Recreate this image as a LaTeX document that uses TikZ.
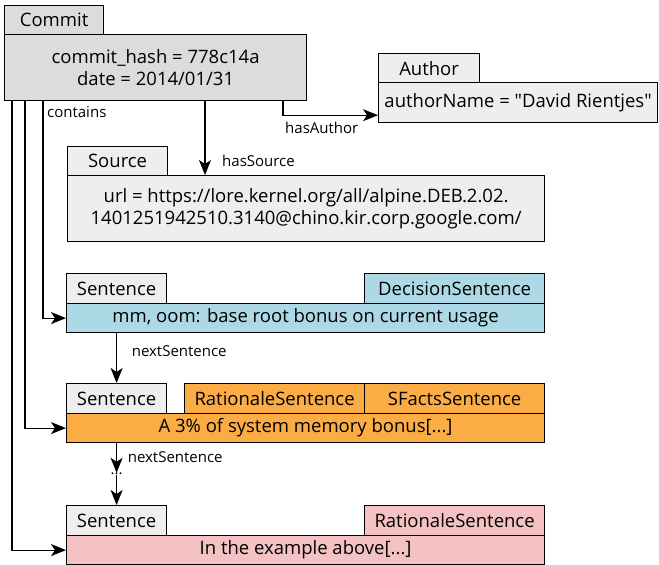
\documentclass[tikz,border=0pt]{standalone}
\usepackage{fontspec}
\setmainfont{Open Sans}
\newfontfamily\qfont{Open Sans}[Ligatures=TeXOff]
\usetikzlibrary{arrows.meta}
\definecolor{commitgray}{HTML}{DCDCDC}
\definecolor{boxgray}{HTML}{EEEEEE}
\definecolor{decblue}{HTML}{ADD8E6}
\definecolor{ratorange}{HTML}{FCAC44}
\definecolor{ratpink}{HTML}{F4C2C2}
\newcommand{\mainf}{\fontsize{18.5}{22}\selectfont}
\newcommand{\smallf}{\fontsize{15}{17}\selectfont}
\tikzset{
  box/.style={draw, line width=1.2pt, inner sep=0pt, anchor=north west, font=\mainf, align=center},
  arr/.style={line width=1.2pt, -{Stealth[length=15pt,width=12pt,inset=4pt]}},
  lbl/.style={font=\smallf, inner sep=0pt, anchor=west},
}
\begin{document}
\begin{tikzpicture}[x=1pt,y=-1pt]
\useasboundingbox (0,0) rectangle (659,565);
% Commit
\node[box, fill=commitgray, minimum width=99pt, minimum height=29pt] (committab) at (4,5) {Commit};
\node[box, fill=commitgray, minimum width=302pt, minimum height=66pt] (commit) at (4,34) {commit\_hash = 778c14a\\date = 2014/01/31};
% Author
\node[box, fill=boxgray, minimum width=101pt, minimum height=29pt] (authtab) at (378,53) {Author};
\node[box, fill=boxgray, minimum width=279pt, minimum height=40pt] (auth) at (378,82) {\qfont authorName = "David Rientjes"};
% Source
\node[box, fill=boxgray, minimum width=100pt, minimum height=29pt] (srctab) at (67,146) {Source};
\node[box, fill=boxgray, minimum width=477pt, minimum height=66pt] (src) at (67,175) {url = https://lore.kernel.org/all/alpine.DEB.2.02.\\1401251942510.3140@chino.kir.corp.google.com/};
% Sentence 1
\node[box, fill=boxgray, minimum width=100pt, minimum height=30pt] (s1tab) at (66,273) {Sentence};
\node[box, fill=decblue, minimum width=180pt, minimum height=30pt] (s1dec) at (364,273) {DecisionSentence};
\node[box, fill=decblue, minimum width=478pt, minimum height=29pt] (s1) at (66,303) {mm, oom: base root bonus on current usage};
% Sentence 2
\node[box, fill=boxgray, minimum width=100pt, minimum height=30pt] (s2tab) at (66,383) {Sentence};
\node[box, fill=ratorange, minimum width=180pt, minimum height=30pt] (s2rat) at (184,383) {RationaleSentence};
\node[box, fill=ratorange, minimum width=180pt, minimum height=30pt] (s2sf) at (364,383) {SFactsSentence};
\node[box, fill=ratorange, minimum width=478pt, minimum height=29pt] (s2) at (66,413) {A 3\% of system memory bonus[...]};
% Sentence 3
\node[box, fill=boxgray, minimum width=100pt, minimum height=30pt] (s3tab) at (66,505) {Sentence};
\node[box, fill=ratpink, minimum width=180pt, minimum height=30pt] (s3rat) at (364,505) {RationaleSentence};
\node[box, fill=ratpink, minimum width=478pt, minimum height=29pt] (s3) at (66,535) {In the example above[...]};
% contains
\draw[arr] ([xshift=8pt]commit.south west) |- (s3.west);
\draw[arr] ([xshift=21pt]commit.south west) |- (s2.west);
\draw[arr] ([xshift=39pt]commit.south west) coordinate (cont) |- (s1.west);
\node[lbl] (contlbl) at ([xshift=4pt,yshift=-11pt]cont) {contains};
% hasSource
\draw[arr] ([xshift=201pt]commit.south west) coordinate (hs) -- (hs |- src.north) coordinate (hsend);
\node[lbl] (hslbl) at ([xshift=17pt,yshift=14pt]hsend) {hasSource};
% hasAuthor
\draw[arr] ([xshift=279pt]commit.south west) coordinate (ha) |- ([yshift=8pt]auth.south west) coordinate (haend);
\coordinate (hacorner) at (ha |- haend);
\node[lbl] (halbl) at ([xshift=2pt,yshift=-13pt]hacorner) {hasAuthor};
% nextSentence
\draw[arr] (s1.south -| s2tab.north) coordinate (ns1) -- (s2tab.north);
\node[lbl] (ns1lbl) at ([xshift=15pt,yshift=-18pt]ns1) {nextSentence};
\node[font=\smallf, inner sep=0pt] (dots) at ([yshift=31pt]s3tab.north) {...};
\draw[arr] (s2.south -| s3tab.north) coordinate (ns2) -- (dots.north);
\draw[arr] (dots.south) -- (s3tab.north);
\node[lbl] (ns2lbl) at ([xshift=11pt,yshift=-14pt]ns2) {nextSentence};
\end{tikzpicture}
\end{document}
